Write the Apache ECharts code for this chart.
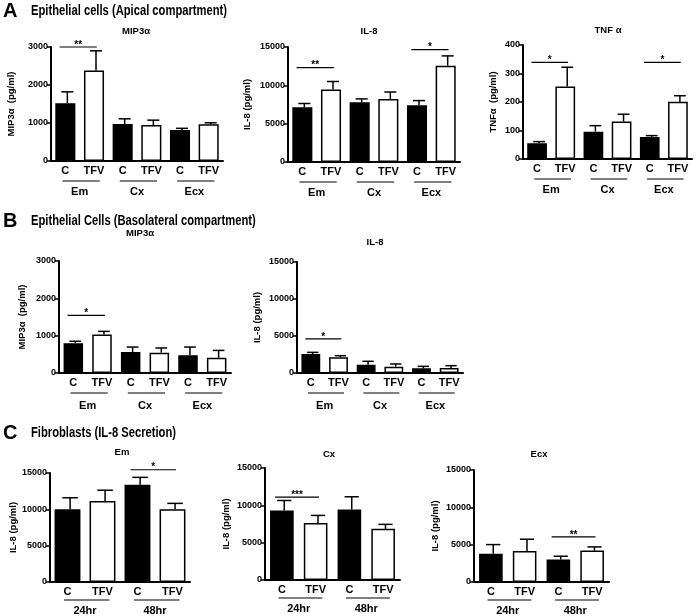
<!DOCTYPE html>
<html><head><meta charset="utf-8">
<script src="https://cdn.jsdelivr.net/npm/echarts@6/dist/echarts.min.js"></script>
<style>html,body{margin:0;padding:0;background:#fff}#c{width:696px;height:616px}</style>
</head><body><div id="c"></div>
<script>
// ---- categories ----
const treatLabels = ['C', 'TFV', 'C', 'TFV', 'C', 'TFV'];
const tissueGroups = ['Em', 'Cx', 'Ecx'];
const timeLabels = ['C', 'TFV', 'C', 'TFV'];
const timeGroups = ['24hr', '48hr'];

// ---- A: epithelial cells, apical compartment ----
const apicalMip3aMean = [1520, 2380, 975, 945, 815, 965];
const apicalMip3aUpper = [1820, 2900, 1110, 1075, 860, 1005];
const apicalMip3aSig = [[0, 1, 3000, '**']];
const apicalIl8Mean = [7150, 9450, 7800, 8230, 7410, 12560];
const apicalIl8Upper = [7630, 10500, 8230, 9130, 8010, 13840];
const apicalIl8Sig = [[0, 1, 12300, '**'], [4, 5, 14650, '*']];
const apicalTnfMean = [55, 254, 96, 132, 77, 201];
const apicalTnfUpper = [61, 322, 117, 157, 82, 222];
const apicalTnfSig = [[0, 1, 339, '*'], [4, 5, 339, '*']];

// ---- B: epithelial cells, basolateral compartment ----
const basoMip3aMean = [800, 1030, 560, 545, 475, 410];
const basoMip3aUpper = [850, 1115, 695, 670, 695, 605];
const basoMip3aSig = [[0, 1, 1545, '*']];
const basoIl8Mean = [2570, 2120, 1130, 860, 630, 680];
const basoIl8Upper = [2790, 2340, 1580, 1220, 900, 990];
const basoIl8Sig = [[0, 1, 4600, '*']];

// ---- C: fibroblasts, IL-8 secretion ----
const fibEmMean = [10000, 11130, 13400, 10000];
const fibEmUpper = [11590, 12630, 14400, 10820];
const fibEmSig = [[2, 3, 15450, '*']];
const fibCxMean = [9300, 7650, 9450, 6850];
const fibCxUpper = [10650, 8650, 11150, 7450];
const fibCxSig = [[0, 1, 11100, '***']];
const fibEcxMean = [3800, 4160, 3000, 4210];
const fibEcxUpper = [5010, 5730, 3450, 4700];
const fibEcxSig = [[2, 3, 6050, '**']];

const FONT = "'Liberation Sans', Arial, sans-serif";

const panels = [
  { mean: apicalMip3aMean, upper: apicalMip3aUpper, sig: apicalMip3aSig, cats: treatLabels, groups: tissueGroups,
    title: 'MIP3α', yName: 'MIP3α  (pg/ml)', max: 3000, interval: 1000,
    grid: { left: 51, top: 47, width: 172, height: 114 }, nameGap: 35, tx: 136, ty: 26, frac: 0.7, ul: 20, gOff: 22 },
  { mean: apicalIl8Mean, upper: apicalIl8Upper, sig: apicalIl8Sig, cats: treatLabels, groups: tissueGroups,
    title: 'IL-8', yName: 'IL-8 (pg/ml)', max: 15000, interval: 5000,
    grid: { left: 288, top: 47, width: 172, height: 115 }, nameGap: 36, tx: 369, ty: 26, frac: 0.7, ul: 20, gOff: 22 },
  { mean: apicalTnfMean, upper: apicalTnfUpper, sig: apicalTnfSig, cats: treatLabels, groups: tissueGroups,
    title: 'TNF α', yName: 'TNFα  (pg/ml)', max: 400, interval: 100,
    grid: { left: 523, top: 45, width: 169, height: 114 }, nameGap: 25, tx: 608, ty: 25, frac: 0.7, ul: 20, gOff: 22 },
  { mean: basoMip3aMean, upper: basoMip3aUpper, sig: basoMip3aSig, cats: treatLabels, groups: tissueGroups,
    title: 'MIP3α', yName: 'MIP3α  (pg/ml)', max: 3000, interval: 1000,
    grid: { left: 59, top: 261, width: 172, height: 112 }, nameGap: 32, tx: 140, ty: 228, frac: 0.68, ul: 20, gOff: 24 },
  { mean: basoIl8Mean, upper: basoIl8Upper, sig: basoIl8Sig, cats: treatLabels, groups: tissueGroups,
    title: 'IL-8', yName: 'IL-8 (pg/ml)', max: 15000, interval: 5000,
    grid: { left: 297, top: 262, width: 166, height: 111 }, nameGap: 35, tx: 375, ty: 237, frac: 0.68, ul: 20, gOff: 24 },
  { mean: fibEmMean, upper: fibEmUpper, sig: fibEmSig, cats: timeLabels, groups: timeGroups,
    title: 'Em', yName: 'IL-8 (pg/ml)', max: 15000, interval: 5000,
    grid: { left: 50, top: 473, width: 140, height: 110 }, nameGap: 27, tx: 122, ty: 447, frac: 0.74, ul: 18, gOff: 20 },
  { mean: fibCxMean, upper: fibCxUpper, sig: fibCxSig, cats: timeLabels, groups: timeGroups,
    title: 'Cx', yName: 'IL-8 (pg/ml)', max: 15000, interval: 5000,
    grid: { left: 265, top: 468, width: 135, height: 112 }, nameGap: 34, tx: 329, ty: 449, frac: 0.7, ul: 18, gOff: 20 },
  { mean: fibEcxMean, upper: fibEcxUpper, sig: fibEcxSig, cats: timeLabels, groups: timeGroups,
    title: 'Ecx', yName: 'IL-8 (pg/ml)', max: 15000, interval: 5000,
    grid: { left: 474, top: 470, width: 135, height: 112 }, nameGap: 34, tx: 539, ty: 449, frac: 0.7, ul: 18, gOff: 20 }
];

const grids = [], xAxes = [], yAxes = [], series = [], titles = [];
const lbl = { fontFamily: FONT, fontWeight: 'bold', color: '#000' };

panels.forEach((p, k) => {
  grids.push(Object.assign({ containLabel: false }, p.grid));
  titles.push({ text: p.title, left: p.tx, top: p.ty, textAlign: 'center', padding: 0,
    textStyle: Object.assign({ fontSize: 9.5 }, lbl) });
  xAxes.push({
    gridIndex: k, type: 'category', data: p.cats,
    axisLine: { lineStyle: { color: '#000', width: 2 } },
    axisTick: { show: false },
    axisLabel: Object.assign({ fontSize: 11, margin: 4, interval: 0 }, lbl)
  });
  xAxes.push({
    gridIndex: k, type: 'category', data: p.groups, position: 'bottom', offset: p.gOff,
    axisLine: { show: false }, axisTick: { show: false },
    axisLabel: Object.assign({ fontSize: 11, margin: 3, interval: 0 }, lbl)
  });
  yAxes.push({
    gridIndex: k, type: 'value', min: 0, max: p.max, interval: p.interval,
    name: p.yName, nameLocation: 'middle', nameGap: p.nameGap, nameRotate: 90,
    nameTextStyle: Object.assign({ fontSize: 9.5 }, lbl),
    axisLine: { show: true, lineStyle: { color: '#000', width: 2 } },
    axisTick: { show: true, length: 4, lineStyle: { color: '#000', width: 1.5 } },
    splitLine: { show: false },
    axisLabel: Object.assign({ fontSize: 9, margin: 3, formatter: v => String(v) }, lbl)
  });
  const frac = p.frac;
  series.push({
    type: 'bar', xAxisIndex: 2 * k, yAxisIndex: k,
    barCategoryGap: Math.round((1 - frac) * 100) + '%',
    data: p.mean.map((v, i) => ({ value: v, itemStyle: {
      color: i % 2 ? '#fff' : '#000', borderColor: '#000', borderWidth: 1.5 } })),
    silent: true, animation: false
  });
  series.push({
    type: 'custom', xAxisIndex: 2 * k, yAxisIndex: k, clip: false, animation: false, silent: true,
    encode: { x: 0, y: [1, 2] },
    data: p.mean.map((v, i) => [i, v, p.upper[i]]),
    renderItem: function (params, api) {
      const i = api.value(0);
      const p0 = api.coord([i, api.value(1)]);
      const p1 = api.coord([i, api.value(2)]);
      const bw = api.size([1, 0])[0] * frac;
      const x = p0[0] + bw * 0.1;
      const cw = bw * 0.6;
      return { type: 'group', children: [
        { type: 'line', shape: { x1: x, y1: p0[1], x2: x, y2: p1[1] }, style: { stroke: '#000', lineWidth: 1.5 } },
        { type: 'line', shape: { x1: x - cw / 2, y1: p1[1], x2: x + cw / 2, y2: p1[1] }, style: { stroke: '#000', lineWidth: 1.5 } }
      ] };
    }
  });
  series.push({
    type: 'custom', xAxisIndex: 2 * k, yAxisIndex: k, clip: false, animation: false, silent: true,
    encode: { x: [0, 1], y: 2 },
    data: p.sig.map(s => [s[0], s[1], s[2]]),
    renderItem: function (params, api) {
      const band = api.size([1, 0])[0];
      const a = api.coord([api.value(0), api.value(2)]);
      const b = api.coord([api.value(1), api.value(2)]);
      const x1 = a[0] - band * 0.2, x2 = b[0] + band * 0.1;
      return { type: 'group', children: [
        { type: 'line', shape: { x1: x1, y1: a[1], x2: x2, y2: a[1] }, style: { stroke: '#000', lineWidth: 1.2 } },
        { type: 'text', x: (x1 + x2) / 2, y: a[1] - 2, style: { text: p.sig[params.dataIndex][3],
          fontSize: 10, fontWeight: 'bold', fontFamily: FONT, fill: '#000', align: 'center', verticalAlign: 'middle' } }
      ] };
    }
  });
  series.push({
    type: 'custom', xAxisIndex: 2 * k, yAxisIndex: k, clip: false, animation: false, silent: true,
    encode: { x: [0, 1] },
    data: p.groups.map((g, j) => [2 * j, 2 * j + 1, 0]),
    renderItem: function (params, api) {
      const band = api.size([1, 0])[0];
      const a = api.coord([api.value(0), 0]);
      const b = api.coord([api.value(1), 0]);
      const y = a[1] + p.ul;
      return { type: 'line', shape: { x1: a[0] - band * 0.1, y1: y, x2: b[0] + band * 0.2, y2: y },
        style: { stroke: '#000', lineWidth: 1.2 } };
    }
  });
});

function heading(letter, text, y) {
  return [
    { type: 'text', x: 3, y: y, style: { text: letter, fontSize: 20, fontWeight: 'bold', fontFamily: FONT, fill: '#000', verticalAlign: 'middle' } },
    { type: 'text', x: 31, y: y, scaleX: 0.8, style: { text: text, fontSize: 14, fontWeight: 'bold', fontFamily: FONT, fill: '#000', verticalAlign: 'middle' } }
  ];
}

const chart = echarts.init(document.getElementById('c'), null, { renderer: 'canvas' });
chart.setOption({
  backgroundColor: '#fff',
  animation: false,
  textStyle: { fontFamily: FONT },
  title: titles,
  grid: grids,
  xAxis: xAxes,
  yAxis: yAxes,
  series: series,
  graphic: [].concat(
    heading('A', 'Epithelial cells (Apical compartment)', 11),
    heading('B', 'Epithelial Cells (Basolateral compartment)', 221),
    heading('C', 'Fibroblasts (IL-8 Secretion)', 433)
  )
});
</script></body></html>
